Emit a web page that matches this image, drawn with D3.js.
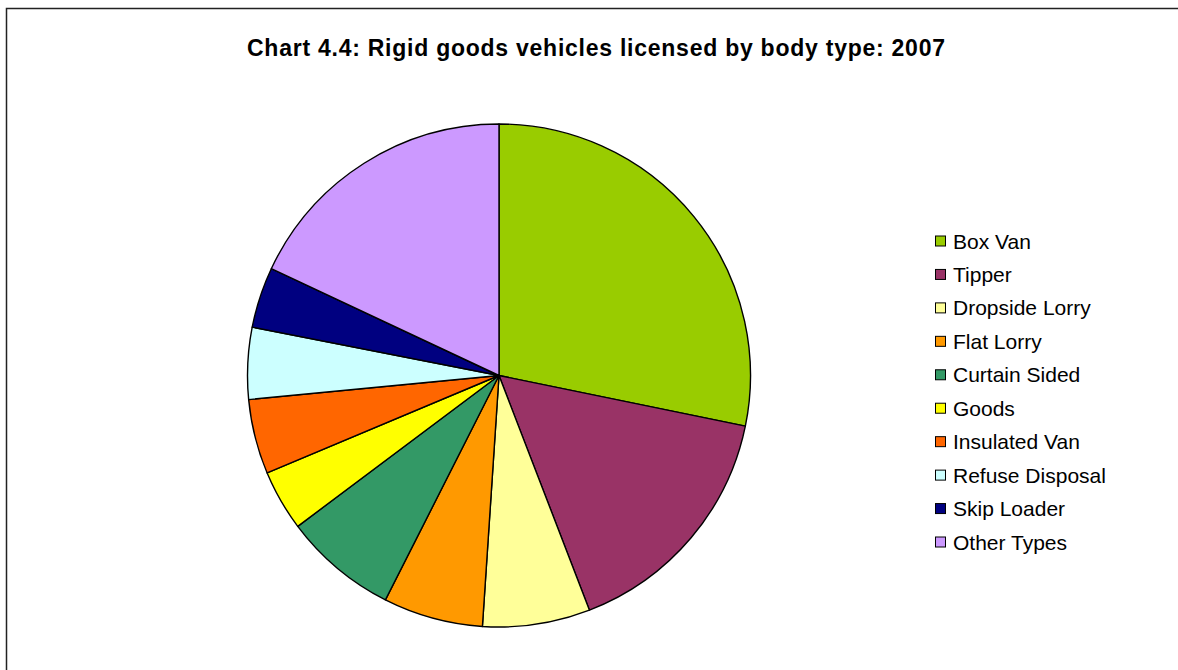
<!DOCTYPE html>
<html>
<head>
<meta charset="utf-8">
<script src="https://cdn.jsdelivr.net/npm/d3@7"></script>
<style>
  html, body { margin: 0; padding: 0; background: #fff; }
  svg { display: block; }
</style>
</head>
<body>
<svg id="chart" width="1178" height="670"></svg>
<script>
// Share of rigid goods vehicles licensed, by body type (per cent)
const categories = ["Box Van", "Tipper", "Dropside Lorry", "Flat Lorry", "Curtain Sided",
                    "Goods", "Insulated Van", "Refuse Disposal", "Skip Loader", "Other Types"];
const shares = [28.2, 15.9, 6.9, 6.4, 7.3, 3.9, 4.8, 4.6, 3.9, 18.0];
const colours = ["#99CC00", "#993366", "#FFFF99", "#FF9900", "#339966",
                 "#FFFF00", "#FF6600", "#CCFFFF", "#000080", "#CC99FF"];
const titleText = "Chart 4.4: Rigid goods vehicles licensed by body type: 2007";

const svg = d3.select("#chart");

// chart area frame
svg.append("rect")
  .attr("x", 6.5).attr("y", 8.5)
  .attr("width", 1200).attr("height", 700)
  .attr("fill", "none").attr("stroke", "#222").attr("stroke-width", 1.5);

svg.append("text")
  .attr("x", 596).attr("y", 56)
  .attr("text-anchor", "middle")
  .attr("font-family", "Liberation Sans, Arial, sans-serif")
  .attr("font-weight", "bold")
  .attr("font-size", 23)
  .attr("textLength", 698)
  .attr("lengthAdjust", "spacing")
  .attr("fill", "#000")
  .text(titleText);

const cx = 499, cy = 375.5, radius = 251.5;
const colour = d3.scaleOrdinal().domain(categories).range(colours);

const pie = d3.pie().sort(null).value(d => d.value);
const arc = d3.arc().innerRadius(0).outerRadius(radius);
const data = categories.map((c, i) => ({ name: c, value: shares[i] }));

svg.append("g")
  .attr("transform", `translate(${cx},${cy})`)
  .selectAll("path")
  .data(pie(data))
  .join("path")
  .attr("d", arc)
  .attr("fill", d => colour(d.data.name))
  .attr("stroke", "#000")
  .attr("stroke-width", 1.4)
  .attr("stroke-linejoin", "round");

// legend
const row = d3.scalePoint().domain(categories).range([241, 542]);
const legend = svg.append("g");
const item = legend.selectAll("g")
  .data(categories)
  .join("g")
  .attr("transform", d => `translate(0,${row(d)})`);
item.append("rect")
  .attr("x", 935.5).attr("y", -5)
  .attr("width", 10).attr("height", 10)
  .attr("fill", d => colour(d))
  .attr("stroke", "#000").attr("stroke-width", 1);
item.append("text")
  .attr("x", 953).attr("y", 7.5)
  .attr("font-family", "Liberation Sans, Arial, sans-serif")
  .attr("font-size", 21)
  .attr("fill", "#000")
  .text(d => d);
</script>
</body>
</html>
